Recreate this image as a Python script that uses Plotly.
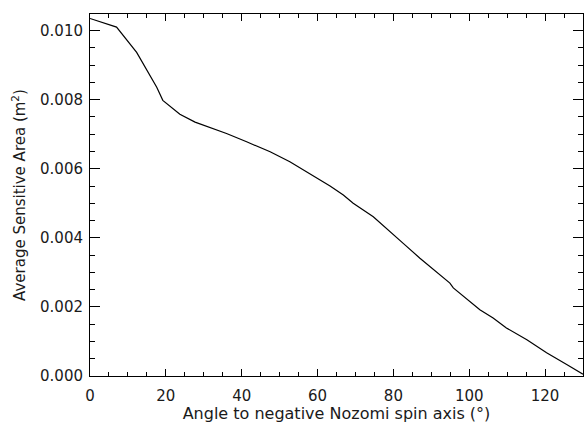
import plotly.graph_objects as go

angle_deg = [0, 7.0, 12.3, 17.6, 19.2, 22.0, 23.7, 27.7, 36.0, 41.3, 47.5, 52.7, 58.0,
             60.7, 63.3, 66.8, 69.4, 74.7, 78.2, 82.6, 87.0, 91.4, 94.9, 95.8, 100.2,
             102.8, 106.3, 109.8, 115.2, 120.4, 125.7, 130.0]
area_m2 = [0.01035, 0.01010, 0.00937, 0.00836, 0.00798, 0.00774, 0.00758, 0.00735,
           0.00702, 0.00678, 0.00649, 0.00620, 0.00586, 0.00569, 0.00550, 0.00524,
           0.00500, 0.00461, 0.00428, 0.00384, 0.00341, 0.00302, 0.00269, 0.00255,
           0.00216, 0.00192, 0.00168, 0.00139, 0.00105, 0.00067, 0.00033, 0.00005]

x_ticks = [0, 20, 40, 60, 80, 100, 120]
y_ticks = [0.000, 0.002, 0.004, 0.006, 0.008, 0.010]
y_ticktext = ["0.000", "0.002", "0.004", "0.006", "0.008", "0.010"]

font = dict(family="DejaVu Sans", size=15, color="#1a1a1a")
title_font = dict(family="DejaVu Sans", size=16, color="#1a1a1a")

fig = go.Figure(go.Scatter(x=angle_deg, y=area_m2, mode="lines",
                           line=dict(color="black", width=1.2), showlegend=False))

fig.update_layout(
    width=584, height=423,
    margin=dict(l=90, r=1, t=14, b=47),
    paper_bgcolor="white", plot_bgcolor="white",
    font=font,
    xaxis=dict(range=[0, 130], tickvals=x_ticks, ticks="inside", ticklen=7,
               tickcolor="black", showline=True, linecolor="black", linewidth=1,
               mirror="ticks", showgrid=False, zeroline=False, ticklabelstandoff=6,
               minor=dict(dtick=5, ticks="inside", ticklen=4, tickcolor="black", showgrid=False),
               title=dict(text="Angle to negative Nozomi spin axis (°)", standoff=0, font=title_font),
               tickfont=font),
    yaxis=dict(range=[0, 0.01048], tickvals=y_ticks, ticktext=y_ticktext, ticks="inside",
               ticklen=10, tickcolor="black", showline=True, linecolor="black", linewidth=1,
               mirror="ticks", showgrid=False, zeroline=False, ticklabelstandoff=3,
               minor=dict(dtick=0.0005, ticks="inside", ticklen=5, tickcolor="black", showgrid=False),
               title=dict(text="Average Sensitive Area (m<sup>2</sup>)", standoff=10, font=font),
               tickfont=font),
)

fig.write_html("out.html")
